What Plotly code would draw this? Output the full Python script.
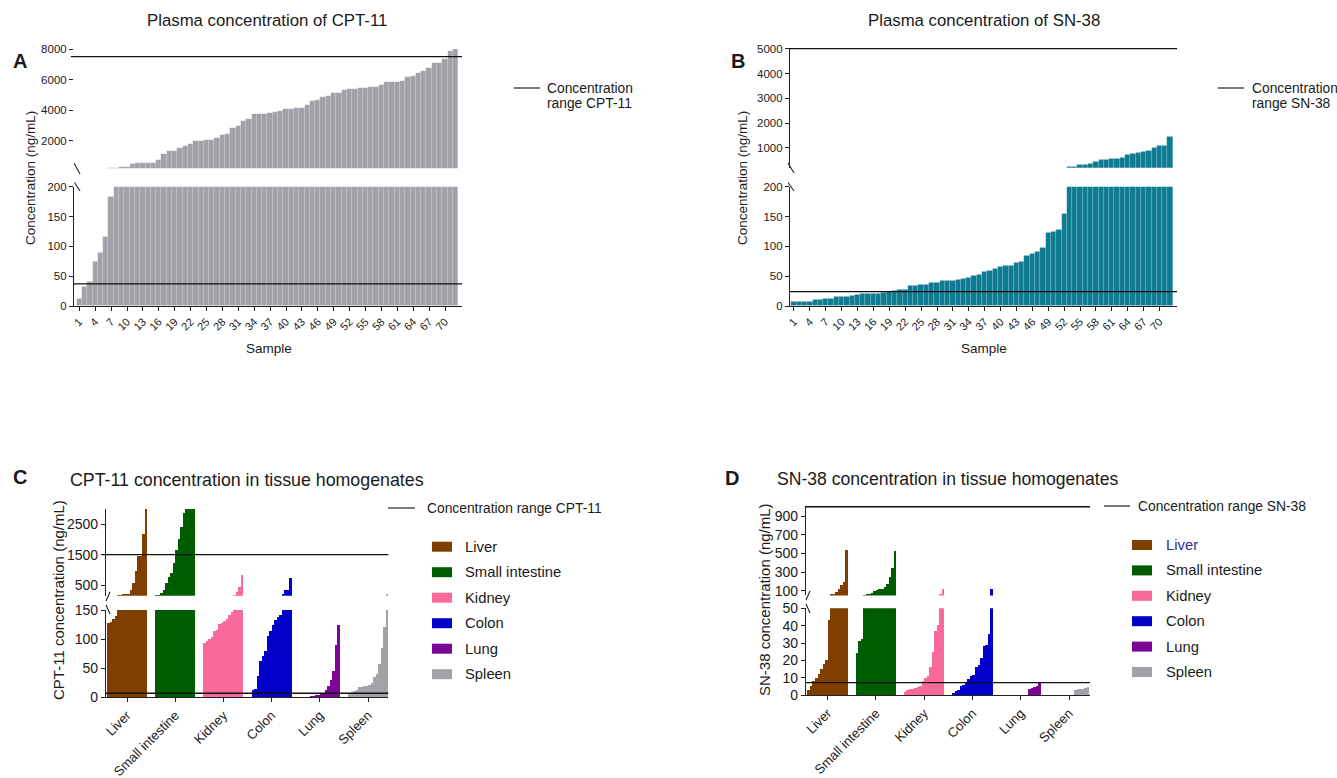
import plotly.graph_objects as go

W, H = 1337, 778
def X(px): return px / W
def Y(py): return 1 - py / H

FONT = "Liberation Sans, Arial, sans-serif"
INK = "#1a1a1a"

# ---------------- data ----------------
samples = list(range(1, 73))
cpt11_plasma = [12, 32, 40, 75, 90, 116, 184, 210,
                250, 300, 450, 535, 545, 560, 570, 710, 1125, 1300,
                1330, 1500, 1670, 1760, 1970, 1990, 2030, 2050, 2200, 2370,
                2440, 2850, 2960, 3270, 3420, 3720, 3730, 3750, 3790, 3880,
                3950, 4050, 4080, 4120, 4160, 4360, 4620, 4670, 4840, 4950,
                5090, 5100, 5320, 5370, 5380, 5430, 5480, 5500, 5540, 5650,
                5830, 5850, 5870, 5930, 6150, 6240, 6460, 6590, 6740, 7060,
                7070, 7330, 7840, 8000]
sn38_plasma = [7, 8, 8, 8, 11, 11, 12, 13, 15, 15, 16, 17, 19, 20, 20, 21, 21,
               23, 24, 25, 27, 28, 34, 34, 35, 36, 39, 39, 42, 42, 43, 44, 45,
               48, 51, 52, 58, 60, 63, 66, 68, 68, 72, 75, 85, 87, 91, 98, 123,
               124, 128, 155,
               225, 250, 315, 320, 380, 460, 515, 545, 550, 560, 625, 720, 760,
               810, 840, 890, 1010, 1110, 1110, 1440]
sample_ticks = list(range(1, 71, 3))

range_cpt11_plasma = [37, 7500]
range_sn38_plasma = [24, 5000]

tissues = ["Liver", "Small intestine", "Kidney", "Colon", "Lung", "Spleen"]
tissue_colors = ["#7F3F00", "#005C00", "#F96A98", "#0000C8", "#7A0597", "#A3A3A7"]

cpt11_liver = [127, 130, 134, 140, 170, 175, 205, 210, 215, 330, 555, 960, 1450, 1460, 2190, 3000]
cpt11_si = [160, 180, 250, 330, 560, 770, 900, 1230, 1660, 2020, 2420, 2860, 3000, 3000, 3000, 3000]
cpt11_kidney = [94, 97, 101, 103, 114, 116, 126, 128, 131, 135, 142, 147, 180, 260, 420, 830]
cpt11_colon = [12, 15, 36, 63, 71, 80, 105, 114, 125, 133, 138, 142, 190, 330, 330, 720]
cpt11_lung = [0, 0, 0, 0, 3, 3, 4, 4, 5, 8, 12, 20, 30, 45, 90, 125]
cpt11_spleen = [7, 9, 10, 12, 17, 18, 19, 20, 22, 24, 35, 40, 58, 85, 120, 200]

sn38_liver = [3, 5, 8, 10, 12, 15, 18, 20, 43, 65, 70, 90, 120, 160, 200, 540]
sn38_si = [24, 31, 32, 55, 62, 68, 80, 95, 110, 120, 125, 140, 175, 250, 350, 530]
sn38_kidney = [1.5, 3, 3.5, 3.7, 4, 4.4, 5, 8, 9.5, 11, 16, 25, 37, 40, 65, 125]
sn38_colon = [1, 2.5, 2.7, 5, 6, 7.5, 9, 11, 11.5, 16, 17.5, 21, 28, 29, 35, 125]
sn38_lung = [0, 0, 0, 0, 0, 0, 0, 0, 0, 0, 0, 3.5, 4, 4.8, 5, 7]
sn38_spleen = [0, 0, 0, 0, 0, 0, 0, 0, 0, 0, 3, 3.2, 3.4, 3.5, 3.8, 4.6]

range_cpt11_tissue = [7, 1500]
range_sn38_tissue = [7.3, 1000]

cpt11_tissue = [cpt11_liver, cpt11_si, cpt11_kidney, cpt11_colon, cpt11_lung, cpt11_spleen]
sn38_tissue = [sn38_liver, sn38_si, sn38_kidney, sn38_colon, sn38_lung, sn38_spleen]

# ---------------- figure ----------------
fig = go.Figure()

plasma_line = dict(width=0.5, color="rgba(255,255,255,0.25)")
for ya in ["y", "y2"]:
    fig.add_trace(go.Bar(x=samples, y=cpt11_plasma, xaxis="x", yaxis=ya,
                         marker=dict(color="#A2A1A7", line=plasma_line), width=1.0,
                         showlegend=False, hoverinfo="x+y"))
for ya in ["y3", "y4"]:
    fig.add_trace(go.Bar(x=samples, y=sn38_plasma, xaxis="x2", yaxis=ya,
                         marker=dict(color="#0E7B93", line=plasma_line), width=1.0,
                         showlegend=False, hoverinfo="x+y"))

def add_tissue(data, xa, yas, gw):
    for g, (vals, col) in enumerate(zip(data, tissue_colors)):
        n = len(vals)
        bw = gw / n
        xs = [g - gw / 2 + (i + 0.5) * bw for i in range(n)]
        for ya in yas:
            fig.add_trace(go.Bar(x=xs, y=vals, xaxis=xa, yaxis=ya, width=bw,
                                 marker=dict(color=col, line=dict(width=0)),
                                 showlegend=False, name=tissues[g]))

add_tissue(cpt11_tissue, "x3", ["y5", "y6"], 0.83)
add_tissue(sn38_tissue, "x4", ["y7", "y8"], 0.84)

tickfont_s = dict(family=FONT, size=11.5, color=INK)
tickfont_l = dict(family=FONT, size=14, color=INK)
tickfont_cat = dict(family=FONT, size=13.2, color=INK)

def yax(dom, rng, tv, anchor, font, line=True):
    return dict(domain=[Y(dom[1]), Y(dom[0])], range=rng, tickvals=tv, anchor=anchor,
                showline=line, linecolor="#222", linewidth=1.2, ticks="outside",
                ticklen=4, tickcolor="#222", tickwidth=1, showgrid=False,
                zeroline=False, tickfont=font, fixedrange=True, automargin=False)

def xax(dom, rng, anchor, tv, tt, font, angle):
    d = dict(domain=[X(dom[0]), X(dom[1])], range=rng, anchor=anchor,
             showline=True, linecolor="#222", linewidth=1.2, ticks="outside",
             ticklen=4, tickcolor="#222", tickwidth=1, showgrid=False,
             zeroline=False, tickfont=font, tickangle=angle, tickvals=tv,
             automargin=False, fixedrange=True)
    if tt is not None:
        d["ticktext"] = tt
    return d

fig.update_layout(
    template="none",
    width=W, height=H, margin=dict(l=0, r=0, t=0, b=0, pad=0), autosize=False,
    paper_bgcolor="white", plot_bgcolor="white", barmode="overlay", bargap=0,
    font=dict(family=FONT, color=INK), showlegend=False,
    xaxis=xax([74, 462], [0, 73.2], "y", sample_ticks, None,
              dict(family=FONT, size=11, color=INK), -45),
    yaxis=yax([186.7, 306], [0, 200], [0, 50, 100, 150, 200], "x", tickfont_s),
    yaxis2=yax([49, 168.2], [200, 8000], [2000, 4000, 6000, 8000], "x", tickfont_s, line=False),
    xaxis2=xax([790, 1177], [0.25, 73.3], "y3", sample_ticks, None,
               dict(family=FONT, size=11, color=INK), -45),
    yaxis3=yax([186.7, 306], [0, 200], [0, 50, 100, 150, 200], "x2", tickfont_s),
    yaxis4=yax([47.7, 167.8], [200, 5040], [1000, 2000, 3000, 4000, 5000], "x2", tickfont_s),
    xaxis3=xax([106, 388.3], [-0.436, 5.42], "y5", list(range(6)), tissues, tickfont_cat, -45),
    yaxis5=yax([610, 697.3], [0, 150], [0, 50, 100, 150], "x3", tickfont_l),
    yaxis6=yax([509, 595.7], [150, 3000], [500, 1500, 2500], "x3", tickfont_l),
    xaxis4=xax([806, 1090], [-0.449, 5.435], "y7", list(range(6)), tissues, tickfont_cat, -45),
    yaxis7=yax([608.3, 695.3], [0, 50], [0, 10, 20, 30, 40, 50], "x4", tickfont_l),
    yaxis8=yax([505.8, 595.4], [50, 1010], [100, 300, 500, 700, 900], "x4", tickfont_l),
)

shapes = []
def refline(xa, ya, val, x0=0.0):
    shapes.append(dict(type="line", xref=xa, yref=ya, x0=x0, x1=1, y0=val, y1=val,
                       line=dict(color="#111", width=1.3)))
refline("x domain", "y", range_cpt11_plasma[0])
refline("x domain", "y2", range_cpt11_plasma[1], -0.008)
refline("x2 domain", "y3", range_sn38_plasma[0])
refline("x2 domain", "y4", range_sn38_plasma[1])
refline("x3 domain", "y5", range_cpt11_tissue[0])
refline("x3 domain", "y6", range_cpt11_tissue[1], -0.015)
refline("x4 domain", "y7", range_sn38_tissue[0])
refline("x4 domain", "y8", range_sn38_tissue[1])

def pline(x0, y0, x1, y1, w=1.1):
    shapes.append(dict(type="line", xref="paper", yref="paper", x0=X(x0), y0=Y(y0),
                       x1=X(x1), y1=Y(y1), line=dict(color="#222", width=w)))

# axis break marks
pline(74, 163, 80, 174); pline(74.5, 182.5, 80, 191)
pline(788, 163, 794, 173); pline(788, 182.5, 794, 191)
pline(106, 601, 110, 592); pline(106, 605, 110, 614)
pline(806, 600, 810, 591); pline(806, 604, 810, 613)

# legend lines
pline(514, 88, 540, 88, 1.2)
pline(1218, 88, 1244, 88, 1.2)
pline(388, 508, 415, 508, 1.2)
pline(1104, 506, 1130, 506, 1.2)

# colour swatches
for i, col in enumerate(tissue_colors):
    yc = 546.7 + i * 25.5
    shapes.append(dict(type="rect", xref="paper", yref="paper", x0=X(432), x1=X(452),
                       y0=Y(yc + 5), y1=Y(yc - 5), fillcolor=col, line=dict(width=0)))
    yc2 = 545 + i * 25.4
    shapes.append(dict(type="rect", xref="paper", yref="paper", x0=X(1132), x1=X(1152),
                       y0=Y(yc2 + 5), y1=Y(yc2 - 5), fillcolor=col, line=dict(width=0)))
fig.update_layout(shapes=shapes)

ann = []
def txt(x, y, s, size, xanchor="left", yanchor="middle", angle=0, bold=False, color=INK):
    ann.append(dict(x=X(x), y=Y(y), xref="paper", yref="paper", text=(f"<b>{s}</b>" if bold else s),
                    showarrow=False, xanchor=xanchor, yanchor=yanchor, textangle=angle,
                    font=dict(family=FONT, size=size, color=color)))

txt(267, 20, "Plasma concentration of CPT-11", 16.8, "center")
txt(984, 20, "Plasma concentration of SN-38", 16.8, "center")
txt(11, 61, "A", 20, bold=True)
txt(729, 61, "B", 20, bold=True)
txt(11, 477, "C", 20, bold=True)
txt(723, 478, "D", 20, bold=True)
txt(68, 480, "CPT-11 concentration in tissue homogenates", 17.8)
txt(775, 479, "SN-38 concentration in tissue homogenates", 17.6)
txt(269, 349, "Sample", 13.5, "center")
txt(984, 349, "Sample", 13.5, "center")
txt(30, 178, "Concentration (ng/mL)", 13.5, "center", angle=-90)
txt(742, 178, "Concentration (ng/mL)", 13.5, "center", angle=-90)
txt(58, 600, "CPT-11 concentration (ng/mL)", 15, "center", angle=-90)
txt(764, 600, "SN-38 concentration (ng/mL)", 15, "center", angle=-90)
txt(545, 88, "Concentration", 13.8)
txt(545, 104, "range CPT-11", 13.8)
txt(1250, 88, "Concentration", 13.8)
txt(1250, 104, "range SN-38", 13.8)
txt(425, 508, "Concentration range CPT-11", 13.8)
txt(1136, 506, "Concentration range SN-38", 13.8)
for i, t in enumerate(tissues):
    txt(463, 546.7 + i * 25.5, t, 14.8)
    txt(1164, 545 + i * 25.4, t, 14.8, color=("#2B2B8F" if i == 0 else INK))
fig.update_layout(annotations=ann)

fig.write_html("out.html", config={"displayModeBar": False},
               post_script="document.body.style.margin='0';document.body.style.padding='0';"
                           "document.body.style.overflow='hidden';")
